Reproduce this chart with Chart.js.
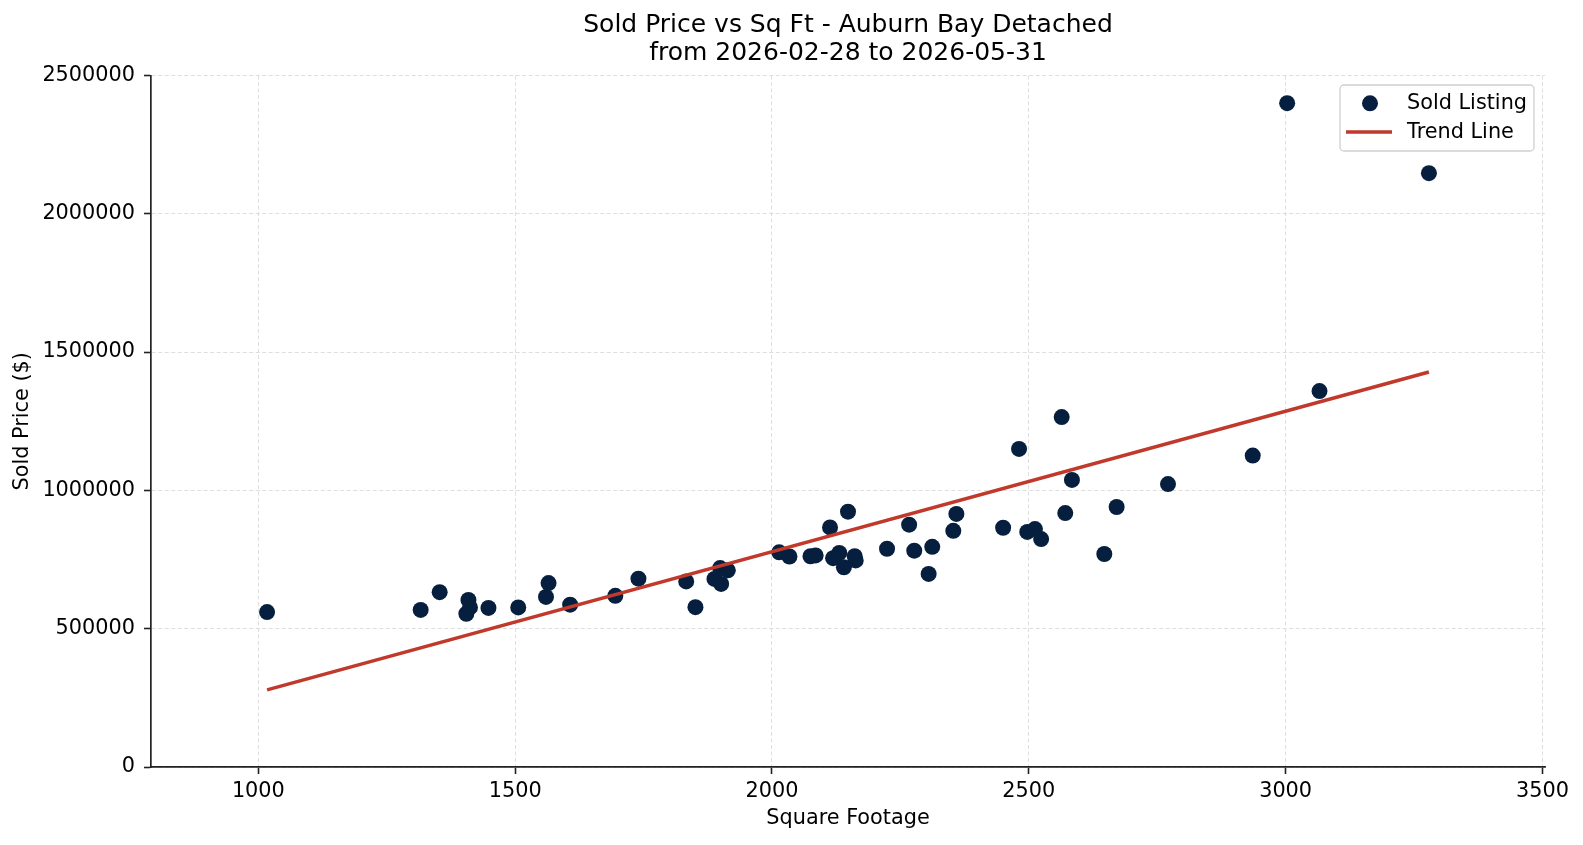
<!DOCTYPE html>
<html>
<head>
<meta charset="utf-8">
<title>Sold Price vs Sq Ft - Auburn Bay Detached</title>
<script src="https://cdn.jsdelivr.net/npm/chart.js@4.4.1/dist/chart.umd.min.js"></script>
<style>
  html, body { margin: 0; padding: 0; background: #fff; }
  #wrap { width: 1583px; height: 845px; }
</style>
</head>
<body>
<div id="wrap"><canvas id="scatter-chart" width="1583" height="845"></canvas></div>
<script>
// sold listings
const sqFootage = [
  1017, 1316, 1353, 1405, 1409, 1412, 1448, 1506, 1560, 1565,
  1607, 1695, 1740, 1833, 1851, 1888, 1899, 1901, 1914, 2014,
  2034, 2075, 2085, 2113, 2119, 2131, 2140, 2148, 2161, 2163,
  2224, 2267, 2277, 2305, 2312, 2353, 2359, 2450, 2481, 2497,
  2512, 2524, 2564, 2571, 2584, 2647, 2671, 2771, 2936, 3003,
  3066, 3279
];
const soldPrice = [
  560000, 568000, 632000, 554000, 604000, 577000, 575000, 577000, 615000, 665000,
  587000, 619000, 681000, 671000, 578000, 680000, 719000, 662000, 711000, 776000,
  761000, 762000, 765000, 866000, 755000, 774000, 722000, 923000, 762000, 747000,
  789000, 876000, 782000, 698000, 796000, 854000, 915000, 865000, 1150000, 850000,
  860000, 824000, 1265000, 918000, 1038000, 770000, 940000, 1023000, 1126000, 2400000,
  1359000, 2147000
];

// trend line end points
const trendSqFootage = [1017, 3279];
const trendPrice = [279000, 1428000];

const xRange = [791, 3505];
const yRange = [0, 2500000];
const xTickValues = [1000, 1500, 2000, 2500, 3000, 3500];
const yTickValues = [0, 500000, 1000000, 1500000, 2000000, 2500000];

const chartTitle = ['Sold Price vs Sq Ft - Auburn Bay Detached', 'from 2026-02-28 to 2026-05-31'];

const FONT = 'DejaVu Sans';
const pointColor = '#061f3f';
const trendColor = '#c0392b';

const toPoints = (xs, ys) => xs.map((x, i) => ({ x: x, y: ys[i] }));

// matplotlib style legend box in the top right corner
const legendBox = {
  id: 'legendBox',
  afterDraw(chart) {
    const { ctx, chartArea } = chart;
    const width = 194, height = 66;
    const left = chartArea.right - 11 - width;
    const top = chartArea.top + 9.5;

    ctx.save();
    ctx.beginPath();
    ctx.roundRect(left, top, width, height, 4);
    ctx.fillStyle = 'rgba(255,255,255,0.8)';
    ctx.fill();
    ctx.lineWidth = 1.3;
    ctx.strokeStyle = '#d0d0d0';
    ctx.stroke();

    const rows = [top + 18.3, top + 47];
    const [scatterSet, trendSet] = chart.data.datasets;

    ctx.beginPath();
    ctx.arc(left + 30, rows[0], scatterSet.pointRadius, 0, Math.PI * 2);
    ctx.fillStyle = scatterSet.backgroundColor;
    ctx.fill();

    ctx.beginPath();
    ctx.moveTo(left + 6, rows[1]);
    ctx.lineTo(left + 52, rows[1]);
    ctx.lineWidth = trendSet.borderWidth;
    ctx.strokeStyle = trendSet.borderColor;
    ctx.stroke();

    ctx.fillStyle = '#000';
    ctx.font = '20.8px "' + FONT + '"';
    ctx.textBaseline = 'middle';
    ctx.textAlign = 'left';
    ctx.fillText(scatterSet.label, left + 67, rows[0]);
    ctx.fillText(trendSet.label, left + 67, rows[1] + 0.5);
    ctx.restore();
  }
};

const gridOpts = { color: '#d6d6d6', lineWidth: 0.8, tickLength: 7, tickColor: '#222', tickWidth: 1.6, tickBorderDash: [] };
const borderOpts = { display: true, color: '#222', width: 1.7, dash: [4, 2.5] };

new Chart(document.getElementById('scatter-chart'), {
  type: 'scatter',
  data: {
    datasets: [
      {
        label: 'Sold Listing',
        data: toPoints(sqFootage, soldPrice),
        backgroundColor: pointColor,
        borderWidth: 0,
        pointRadius: 8,
        order: 1
      },
      {
        label: 'Trend Line',
        data: toPoints(trendSqFootage, trendPrice),
        showLine: true,
        borderColor: trendColor,
        backgroundColor: trendColor,
        borderWidth: 3.5,
        pointRadius: 0,
        order: 0
      }
    ]
  },
  options: {
    responsive: false,
    animation: false,
    events: [],
    layout: { padding: { left: 0, right: 38, top: 0, bottom: 0 } },
    plugins: {
      legend: { display: false },
      tooltip: { enabled: false },
      title: {
        display: true,
        text: chartTitle,
        fullSize: false,
        color: '#000',
        font: { family: FONT, size: 25, weight: 'normal', lineHeight: 1.13 },
        padding: { top: 11, bottom: 8 }
      }
    },
    scales: {
      x: {
        type: 'linear',
        min: xRange[0],
        max: xRange[1],
        grid: gridOpts,
        border: borderOpts,
        afterBuildTicks: scale => { scale.ticks = xTickValues.map(v => ({ value: v })); },
        ticks: {
          autoSkip: false,
          padding: 5,
          color: '#000',
          font: { family: FONT, size: 20.8 },
          callback: v => String(v)
        },
        title: {
          display: true,
          text: 'Square Footage',
          color: '#000',
          font: { family: FONT, size: 20.8 },
          padding: { top: 0, bottom: 14 }
        },
        afterFit: scale => { scale.height = 78; }
      },
      y: {
        type: 'linear',
        min: yRange[0],
        max: yRange[1],
        grid: gridOpts,
        border: borderOpts,
        afterBuildTicks: scale => { scale.ticks = yTickValues.map(v => ({ value: v })); },
        ticks: {
          autoSkip: false,
          padding: 9,
          color: '#000',
          font: { family: FONT, size: 20.8 },
          callback: v => String(v)
        },
        title: {
          display: true,
          text: 'Sold Price ($)',
          color: '#000',
          font: { family: FONT, size: 20.8 },
          padding: { top: 10, bottom: 0 }
        },
        afterFit: scale => { scale.width = 151; }
      }
    }
  },
  plugins: [legendBox]
});
</script>
</body>
</html>
